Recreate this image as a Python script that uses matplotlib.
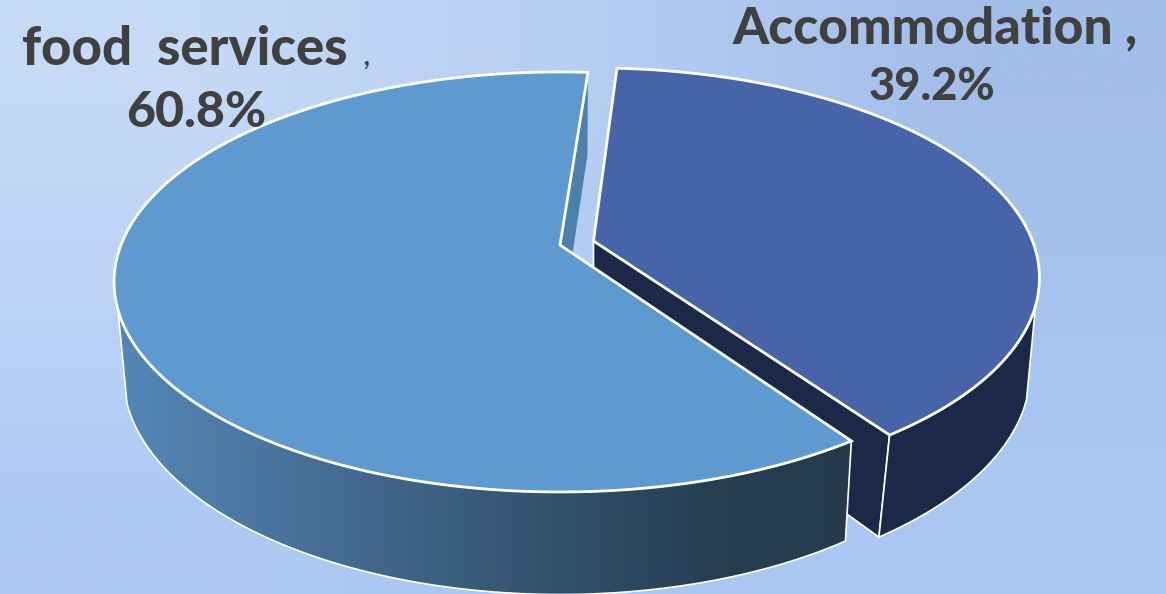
import matplotlib
matplotlib.use('Agg')
import matplotlib.pyplot as plt
import numpy as np
from matplotlib.colors import LinearSegmentedColormap, to_rgb
from matplotlib.patches import Polygon

categories = ['food services', 'Accommodation']
shares = [60.8, 39.2]

# where the cut between the slices starts, degrees clockwise from the back
start_angle = 4.3
acc_start_angle = 3.6
explode = (33.5, -4)

top_color = {'food services': '#5e9acf', 'Accommodation': '#4764a8'}
wall_dark = '#1c2847'
cut_color = '#4d80ac'
text_color = '#404040'
wall_stops = ['#5587b6', '#4a759f', '#3f6285', '#31516b', '#273f53', '#253a4d']

# apex, half width, half depth and perspective of the two faces of the disc
top_disc = dict(x0=560, y0=245, bx=439, by=203.5, k=0.176)
low_disc = dict(x0=560, y0=336, bx=430, by=213, k=0.176)


def project(disc, theta, r=1.0, offset=(0, 0)):
    theta = np.radians(theta)
    u = r * np.sin(theta)
    v = r * np.cos(theta)
    w = 1 + disc['k'] * v
    x = disc['x0'] + disc['bx'] * u / w + offset[0]
    y = disc['y0'] - disc['by'] * v / w + offset[1]
    return np.column_stack([x, y])


def slice_outline(disc, a0, a1, offset=(0, 0)):
    rim = project(disc, np.linspace(a0, a1, 200), offset=offset)
    apex = project(disc, 0.0, r=0.0, offset=offset)
    return np.vstack([apex, rim])


fig = plt.figure(figsize=(11.66, 5.94), dpi=100)
ax = fig.add_axes([0, 0, 1, 1])
ax.set_xlim(0, 1166)
ax.set_ylim(594, 0)
ax.axis('off')

# soft blue backdrop
corners = np.array([[to_rgb('#c6daf6'), to_rgb('#b6cef2'), to_rgb('#a2bee9')],
                    [to_rgb('#bcd3f6'), to_rgb('#b2ccf3'), to_rgb('#a5c3ef')],
                    [to_rgb('#aecaf4'), to_rgb('#a9c7f3'), to_rgb('#a9c8f4')]])
ax.imshow(corners, extent=(0, 1166, 594, 0), aspect='auto',
          interpolation='bilinear', zorder=0)

sweep = [s / sum(shares) * 360 for s in shares]
acc_a0 = acc_start_angle
acc_a1 = acc_start_angle + sweep[1]
food_a0 = start_angle + sweep[1]
food_a1 = food_a0 + sweep[0]

# accommodation slice, pulled out of the pie
acc_top = slice_outline(top_disc, acc_a0, acc_a1, explode)
side = [project(top_disc, acc_a1, offset=explode)[0],
        project(low_disc, food_a0, offset=explode)[0],
        project(low_disc, 0.0, r=0.0, offset=explode)[0],
        project(top_disc, 0.0, r=0.0, offset=explode)[0]]
ax.add_patch(Polygon(side, closed=True, fc=wall_dark, ec='white', lw=1.2, zorder=2))

top_range = np.linspace(acc_a1, 107.5, 120)
low_range = np.linspace(107.5, food_a0, 120)
acc_wall = np.vstack([project(top_disc, top_range, offset=explode),
                      project(low_disc, low_range, offset=explode)])
ax.add_patch(Polygon(acc_wall, closed=True, fc=wall_dark, ec='white', lw=1.2, zorder=3))
ax.add_patch(Polygon(acc_top, closed=True, fc=top_color['Accommodation'], ec='white',
                     lw=2, joinstyle='miter', zorder=4))

# inner cut face of the food slice
cut = [project(top_disc, 0.0, r=0.0)[0], project(top_disc, start_angle)[0],
       project(low_disc, start_angle)[0], project(low_disc, 0.0, r=0.0)[0]]
ax.add_patch(Polygon(cut, closed=True, fc=cut_color, ec='none', zorder=5))

# food slice outer wall with the left to right shading
wall_range = np.linspace(food_a0, 252.5, 200)
food_wall = np.vstack([project(top_disc, wall_range),
                       project(low_disc, wall_range[::-1])])
wall_patch = Polygon(food_wall, closed=True, fc='none', ec='none', zorder=6)
ax.add_patch(wall_patch)
wall_cmap = LinearSegmentedColormap.from_list('wall', wall_stops)
shade = ax.imshow(np.linspace(0, 1, 256).reshape(1, -1), cmap=wall_cmap,
                  extent=(food_wall[:, 0].min(), food_wall[:, 0].max(), 594, 0),
                  aspect='auto', zorder=6)
shade.set_clip_path(wall_patch)
ax.add_patch(Polygon(food_wall, closed=True, fc='none', ec='white', lw=1.2, zorder=7))

food_top = slice_outline(top_disc, food_a0, food_a1)
ax.add_patch(Polygon(food_top, closed=True, fc=top_color['food services'], ec='white',
                     lw=2, joinstyle='miter', zorder=8))

ax.set_xlim(0, 1166)
ax.set_ylim(594, 0)

# data labels
font = dict(family='Lato', weight='black', color=text_color, zorder=10)
ax.text(185, 65, categories[0].replace(' ', '  '), fontsize=38, ha='center', va='baseline', **font)
ax.text(362, 65, ',', fontsize=24, ha='left', va='baseline', family='Lato', color=text_color, zorder=10)
ax.text(196, 127, f'{shares[0]}%', fontsize=36, ha='center', va='baseline', **font)
ax.text(935, 43, categories[1] + ' ,', fontsize=37.2, ha='center', va='baseline', **font)
ax.text(932, 100, f'{shares[1]}%', fontsize=32.5, ha='center', va='baseline', **font)

fig.savefig('out.png', dpi=100)
